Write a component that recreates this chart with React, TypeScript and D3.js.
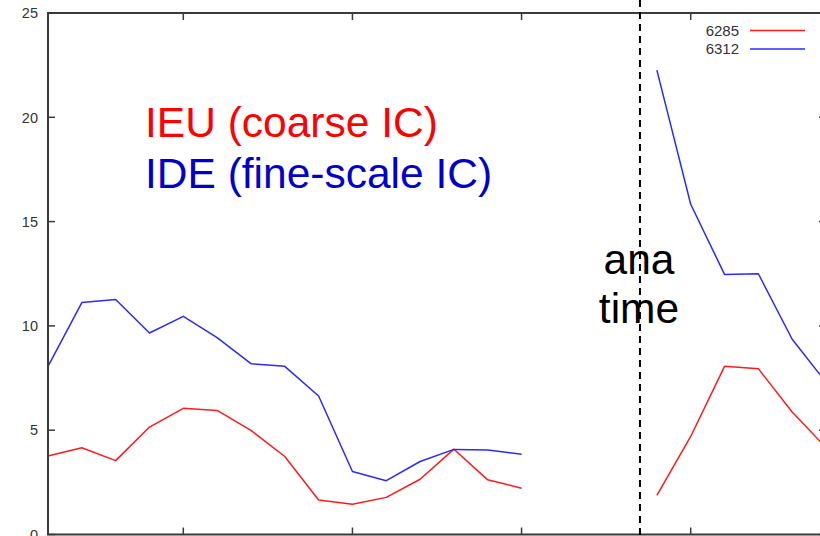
import React, { useEffect, useRef } from 'react';
import * as d3 from 'd3';

// lead-time steps (x index), 15..17 have no data
const steps = [0, 1, 2, 3, 4, 5, 6, 7, 8, 9, 10, 11, 12, 13, 14, 15, 16, 17, 18, 19, 20, 21, 22, 23];
const ieu6285 = [3.76, 4.16, 3.54, 5.15, 6.05, 5.95, 4.99, 3.74, 1.65, 1.45, 1.78, 2.65, 4.09, 2.62, 2.22, null, null, null, 1.87, 4.7, 8.06, 7.95, 5.87, 4.17];
const ide6312 = [8.06, 11.12, 11.27, 9.66, 10.46, 9.44, 8.19, 8.06, 6.64, 3.02, 2.58, 3.5, 4.08, 4.05, 3.85, null, null, null, 22.26, 15.83, 12.47, 12.5, 9.36, 7.3];
const yTicks = [0, 5, 10, 15, 20, 25];
const xTicks = [4, 9, 14, 19];
const anaTime = 17.5;
const seriesNames = ['6285', '6312'];
const seriesColors = ['#ff1a1a', '#2a2aff'];

const W = 820;
const H = 536;

export default function App() {
  const svgRef = useRef<SVGSVGElement>(null);

  useEffect(() => {
    if (!svgRef.current) return;
    const svg = d3.select(svgRef.current);
    svg.selectAll('*').remove();

    const left = 48, right = 826, top = 13, bottom = 534.5;
    const x = d3.scaleLinear().domain([0, 23]).range([left, right]);
    const y = d3.scaleLinear().domain([0, 25]).range([bottom, top]);
    const axisColor = '#3a3a3a';
    const tickLen = 7;

    // data lines
    const series = [ieu6285, ide6312];
    series.forEach((vals, si) => {
      const line = d3.line<number>()
        .defined((_, i) => vals[i] != null)
        .x(i => x(i))
        .y(i => y(vals[i] as number));
      svg.append('path')
        .datum(steps)
        .attr('fill', 'none')
        .attr('stroke', seriesColors[si])
        .attr('stroke-width', 1.5)
        .attr('stroke-linejoin', 'round')
        .attr('d', line);
    });

    // border
    svg.append('path')
      .attr('d', `M${left},${bottom}V${top}H${right}V${bottom}Z`)
      .attr('fill', 'none')
      .attr('stroke', axisColor)
      .attr('stroke-width', 2);

    // y ticks (left & right, inward)
    yTicks.forEach(t => {
      svg.append('line')
        .attr('x1', left).attr('x2', left + tickLen)
        .attr('y1', y(t)).attr('y2', y(t))
        .attr('stroke', axisColor).attr('stroke-width', 1.5);
      svg.append('line')
        .attr('x1', right - tickLen).attr('x2', right)
        .attr('y1', y(t)).attr('y2', y(t))
        .attr('stroke', axisColor).attr('stroke-width', 1.5);
      svg.append('text')
        .attr('x', 38)
        .attr('y', y(t))
        .attr('dy', '0.36em')
        .attr('text-anchor', 'end')
        .attr('font-family', 'Liberation Sans, Arial, sans-serif')
        .attr('font-size', 14.5)
        .attr('fill', '#333')
        .text(t);
    });

    // x ticks (bottom & top, inward)
    xTicks.forEach(t => {
      svg.append('line')
        .attr('x1', x(t)).attr('x2', x(t))
        .attr('y1', bottom).attr('y2', bottom - tickLen)
        .attr('stroke', axisColor).attr('stroke-width', 1.5);
      svg.append('line')
        .attr('x1', x(t)).attr('x2', x(t))
        .attr('y1', top).attr('y2', top + tickLen)
        .attr('stroke', axisColor).attr('stroke-width', 1.5);
    });

    // analysis time marker
    svg.append('line')
      .attr('x1', x(anaTime)).attr('x2', x(anaTime))
      .attr('y1', 0).attr('y2', H)
      .attr('stroke', '#000')
      .attr('stroke-width', 2)
      .attr('stroke-dasharray', '7,5');

    // legend
    seriesNames.forEach((name, i) => {
      const ly = 30.5 + i * 18.5;
      svg.append('text')
        .attr('x', 739)
        .attr('y', ly)
        .attr('dy', '0.36em')
        .attr('text-anchor', 'end')
        .attr('font-family', 'Liberation Sans, Arial, sans-serif')
        .attr('font-size', 15)
        .attr('fill', '#333')
        .text(name);
      svg.append('line')
        .attr('x1', 750).attr('x2', 805)
        .attr('y1', ly).attr('y2', ly)
        .attr('stroke', seriesColors[i])
        .attr('stroke-width', 1.5);
    });

    // annotations
    const big = (txt: string, tx: number, ty: number, color: string, anchor = 'start') =>
      svg.append('text')
        .attr('x', tx).attr('y', ty)
        .attr('text-anchor', anchor)
        .attr('font-family', 'Liberation Sans, Arial, sans-serif')
        .attr('font-size', 42.5)
        .attr('fill', color)
        .text(txt);
    big('IEU (coarse IC)', 145, 137, '#ff0000');
    big('IDE (fine-scale IC)', 145, 188, '#0000cc');
    big('ana', 639, 274, '#000', 'middle');
    big('time', 639, 323, '#000', 'middle');
  }, []);

  return (
    <svg
      ref={svgRef}
      width={W}
      height={H}
      style={{ position: 'absolute', left: 0, top: 0, background: '#fff' }}
    />
  );
}
